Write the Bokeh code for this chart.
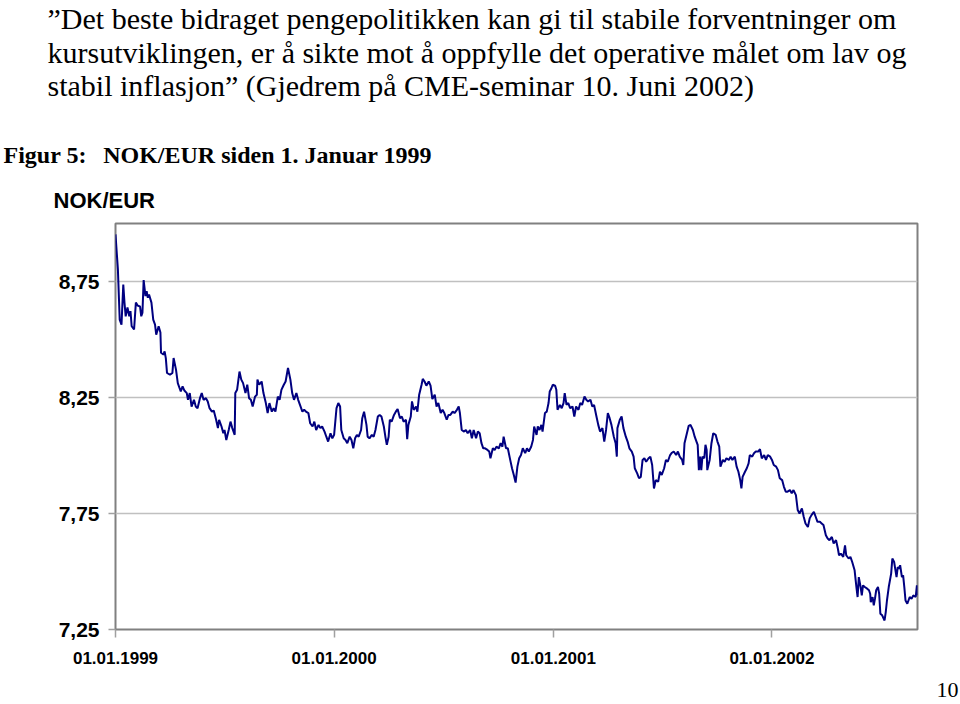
import pandas as pd
from bokeh.plotting import figure
from bokeh.models import Range1d, FixedTicker, DatetimeTickFormatter, Title
from bokeh.embed import file_html
from bokeh.resources import INLINE

# ---------------- data ----------------
# calendar days after 1 Jan 1999
days = [0, 4, 7, 10, 13, 15, 17, 20, 23, 25,
        27, 31, 34, 37, 41, 43, 45, 47, 50, 52,
        54, 56, 60, 63, 66, 68, 72, 75, 76, 80,
        82, 84, 86, 91, 95, 97, 101, 104, 109, 112,
        115, 119, 121, 124, 127, 131, 134, 137, 141, 144,
        147, 151, 154, 157, 161, 164, 168, 171, 173, 177,
        180, 182, 185, 189, 192, 195, 199, 200, 203, 207,
        210, 213, 217, 220, 223, 226, 229, 233, 236, 237,
        240, 244, 247, 251, 254, 257, 261, 264, 267, 271,
        274, 277, 281, 284, 288, 292, 295, 298, 302, 305,
        308, 312, 315, 318, 322, 325, 329, 332, 335, 339,
        342, 345, 349, 352, 355, 359, 362, 365, 369, 372,
        375, 377, 381, 384, 387, 391, 394, 397, 400, 403,
        406, 410, 412, 415, 419, 421, 424, 428, 431, 434,
        438, 441, 444, 448, 451, 453, 456, 458, 461, 465,
        468, 471, 475, 478, 481, 485, 487, 489, 493, 495,
        498, 502, 504, 507, 511, 513, 516, 519, 523, 526,
        529, 533, 536, 539, 543, 546, 549, 553, 556, 559,
        563, 566, 570, 573, 575, 578, 582, 585, 588, 592,
        595, 598, 602, 605, 608, 611, 614, 617, 621, 624,
        626, 630, 633, 636, 640, 643, 646, 648, 652, 655,
        659, 662, 665, 668, 671, 674, 677, 680, 684, 687,
        690, 694, 697, 699, 703, 705, 708, 711, 713, 717,
        720, 723, 725, 728, 730, 734, 736, 738, 742, 745,
        748, 750, 753, 756, 759, 763, 766, 769, 773, 776,
        779, 783, 786, 789, 793, 796, 799, 803, 806, 809,
        813, 816, 819, 822, 825, 828, 832, 835, 837, 838,
        842, 845, 848, 852, 855, 858, 862, 865, 867, 871,
        874, 877, 880, 883, 886, 890, 893, 896, 899, 902,
        906, 909, 912, 916, 919, 922, 926, 929, 932, 936,
        939, 942, 946, 948, 950, 954, 957, 960, 964, 967,
        970, 972, 974, 976, 978, 980, 983, 985, 987, 988,
        992, 995, 998, 1002, 1005, 1008, 1010, 1014, 1017, 1020,
        1024, 1027, 1030, 1034, 1037, 1040, 1043, 1045, 1047, 1051,
        1054, 1057, 1059, 1063, 1066, 1069, 1073, 1076, 1079, 1083,
        1086, 1089, 1093, 1096, 1099, 1103, 1106, 1109, 1113, 1116,
        1119, 1122, 1126, 1129, 1132, 1136, 1139, 1142, 1146, 1149,
        1152, 1156, 1159, 1162, 1166, 1169, 1172, 1176, 1179, 1182,
        1186, 1189, 1192, 1196, 1199, 1203, 1206, 1208, 1211, 1215,
        1218, 1220, 1224, 1227, 1230, 1234, 1237, 1239, 1241, 1244,
        1246, 1248, 1251, 1255, 1258, 1260, 1261, 1264, 1266, 1268,
        1270, 1273, 1275, 1277, 1280, 1284, 1286, 1288, 1291, 1295,
        1297, 1300, 1304, 1306, 1308, 1310, 1313, 1315, 1317, 1319,
        1322, 1326, 1329, 1332, 1336, 1338, 1339]

nok_eur = [8.953, 8.802, 8.586, 8.564, 8.737, 8.659, 8.600, 8.638, 8.600, 8.622,
           8.557, 8.543, 8.659, 8.646, 8.642, 8.600, 8.616, 8.756, 8.687, 8.708,
           8.680, 8.694, 8.659, 8.586, 8.564, 8.521, 8.557, 8.530, 8.443, 8.435,
           8.449, 8.420, 8.356, 8.348, 8.356, 8.420, 8.370, 8.312, 8.276, 8.298,
           8.280, 8.269, 8.240, 8.269, 8.211, 8.240, 8.211, 8.204, 8.247, 8.269,
           8.240, 8.247, 8.233, 8.204, 8.189, 8.194, 8.154, 8.118, 8.154, 8.125,
           8.096, 8.110, 8.067, 8.110, 8.146, 8.118, 8.089, 8.269, 8.283, 8.362,
           8.327, 8.312, 8.269, 8.305, 8.247, 8.240, 8.211, 8.254, 8.262, 8.327,
           8.305, 8.319, 8.269, 8.226, 8.183, 8.226, 8.189, 8.204, 8.189, 8.254,
           8.240, 8.283, 8.305, 8.319, 8.377, 8.327, 8.269, 8.240, 8.269, 8.240,
           8.218, 8.189, 8.197, 8.189, 8.183, 8.139, 8.125, 8.146, 8.110, 8.132,
           8.118, 8.125, 8.103, 8.081, 8.060, 8.096, 8.074, 8.089, 8.204, 8.226,
           8.211, 8.110, 8.074, 8.067, 8.053, 8.081, 8.067, 8.031, 8.074, 8.089,
           8.081, 8.110, 8.161, 8.189, 8.132, 8.081, 8.074, 8.089, 8.081, 8.110,
           8.168, 8.175, 8.168, 8.125, 8.074, 8.046, 8.081, 8.154, 8.146, 8.175,
           8.189, 8.200, 8.161, 8.168, 8.146, 8.154, 8.070, 8.132, 8.168, 8.233,
           8.197, 8.211, 8.189, 8.262, 8.305, 8.330, 8.319, 8.301, 8.319, 8.301,
           8.243, 8.262, 8.211, 8.226, 8.183, 8.197, 8.183, 8.154, 8.175, 8.175,
           8.189, 8.183, 8.197, 8.211, 8.183, 8.110, 8.103, 8.110, 8.096, 8.110,
           8.074, 8.110, 8.074, 8.103, 8.096, 8.053, 8.031, 8.031, 8.024, 8.017,
           7.988, 8.031, 8.024, 8.038, 8.031, 8.053, 8.038, 8.081, 8.031, 8.031,
           7.981, 7.945, 7.916, 7.883, 7.952, 7.988, 8.002, 8.031, 8.010, 8.031,
           8.017, 8.038, 8.067, 8.125, 8.089, 8.125, 8.110, 8.132, 8.103, 8.183,
           8.189, 8.226, 8.276, 8.291, 8.305, 8.301, 8.283, 8.197, 8.218, 8.204,
           8.226, 8.269, 8.218, 8.226, 8.204, 8.211, 8.168, 8.211, 8.197, 8.226,
           8.218, 8.254, 8.240, 8.233, 8.240, 8.211, 8.218, 8.168, 8.132, 8.103,
           8.118, 8.060, 8.110, 8.183, 8.161, 8.132, 8.081, 8.053, 7.995, 8.118,
           8.154, 8.168, 8.118, 8.081, 8.060, 8.031, 8.017, 7.995, 7.945, 7.923,
           7.902, 7.908, 7.981, 7.988, 7.973, 7.988, 7.995, 7.959, 7.858, 7.894,
           7.887, 7.930, 7.916, 7.945, 7.981, 7.973, 8.002, 8.012, 8.017, 8.002,
           8.017, 7.995, 7.981, 7.959, 8.053, 8.096, 8.128, 8.132, 8.110, 8.081,
           8.060, 8.046, 7.937, 7.995, 7.937, 7.995, 7.988, 8.046, 8.024, 7.937,
           7.981, 8.053, 8.096, 8.089, 8.060, 8.038, 7.952, 7.981, 7.973, 7.988,
           7.981, 7.995, 7.981, 7.995, 7.952, 7.930, 7.894, 7.858, 7.908, 7.930,
           7.945, 7.966, 8.002, 7.995, 8.010, 8.017, 8.017, 8.027, 7.988, 8.002,
           7.981, 8.002, 7.995, 7.981, 7.959, 7.952, 7.937, 7.902, 7.894, 7.865,
           7.844, 7.844, 7.851, 7.837, 7.851, 7.829, 7.765, 7.750, 7.772, 7.736,
           7.707, 7.692, 7.729, 7.743, 7.757, 7.736, 7.714, 7.714, 7.707, 7.700,
           7.656, 7.642, 7.635, 7.649, 7.621, 7.635, 7.599, 7.570, 7.577, 7.563,
           7.613, 7.570, 7.556, 7.563, 7.541, 7.505, 7.433, 7.390, 7.476, 7.433,
           7.397, 7.440, 7.433, 7.426, 7.419, 7.404, 7.368, 7.390, 7.354, 7.383,
           7.419, 7.433, 7.404, 7.318, 7.311, 7.289, 7.325, 7.375, 7.433, 7.491,
           7.556, 7.541, 7.476, 7.519, 7.512, 7.527, 7.476, 7.483, 7.433, 7.375,
           7.361, 7.390, 7.383, 7.397, 7.390, 7.440, 7.397]

start_date = "1999-01-01"
x_tick_dates = ["1999-01-01", "2000-01-01", "2001-01-01", "2002-01-01"]
y_ticks = [7.25, 7.75, 8.25, 8.75]
y_tick_labels = ["7,25", "7,75", "8,25", "8,75"]
y_min, y_max = 7.25, 9.0

quote_lines = [
    "\u201dDet beste bidraget pengepolitikken kan gi til stabile forventninger om",
    "kursutviklingen, er \u00e5 sikte mot \u00e5 oppfylle det operative m\u00e5let om lav og",
    "stabil inflasjon\u201d (Gjedrem p\u00e5 CME-seminar 10. Juni 2002)",
]
fig_heading = "Figur 5:\u00a0\u00a0\u2009NOK/EUR siden 1. Januar 1999"
unit_label = "NOK/EUR"
page_number = "10"

assert len(days) == len(nok_eur)
dates = pd.Timestamp(start_date) + pd.to_timedelta(days, unit="D")

W, H = 960, 704
FRAME_L, FRAME_R = 115, 917
p = figure(width=W, height=H, x_axis_type="datetime",
           output_backend="svg", toolbar_location=None,
           x_range=Range1d(dates[0], dates[-1]),
           y_range=Range1d(y_min, y_max),
           min_border_left=FRAME_L, min_border_right=W - FRAME_R,
           min_border_top=222, min_border_bottom=75)
p.background_fill_color = "white"
p.border_fill_color = "white"
p.outline_line_color = "#808080"
p.outline_line_width = 2

p.line(dates, nok_eur, line_color="#000080", line_width=2)

p.xgrid.visible = False
p.ygrid.grid_line_color = "#c0c0c0"
p.ygrid.grid_line_width = 1.5

p.yaxis.ticker = FixedTicker(ticks=y_ticks)
p.yaxis.major_label_overrides = dict(zip(y_ticks, y_tick_labels))
x_ticks_ms = [pd.Timestamp(d).value / 1e6 for d in x_tick_dates]
p.xaxis.ticker = FixedTicker(ticks=x_ticks_ms)
p.xaxis.formatter = DatetimeTickFormatter(days="%d.%m.%Y", months="%d.%m.%Y",
                                          years="%d.%m.%Y")

for ax in (p.xaxis[0], p.yaxis[0]):
    ax.axis_line_color = None
    ax.major_tick_line_color = "#a0a0a0"
    ax.major_tick_line_width = 1.5
    ax.major_tick_in = 0
    ax.minor_tick_line_color = None
    ax.major_label_text_font = "Liberation Sans"
    ax.major_label_text_font_style = "bold"
    ax.major_label_text_color = "black"

p.yaxis.major_tick_out = 7
p.yaxis.major_label_standoff = 9
p.yaxis.major_label_text_font_size = "21px"
p.xaxis.major_tick_out = 8
p.xaxis.major_label_standoff = 14
p.xaxis.major_label_text_font_size = "17px"


# ---------------- texts as titles in the side panels ----------------
def add_title(text, side, page_x, size, font, style="normal", align="left", standoff=0.0):
    if align == "left":
        offset = page_x - FRAME_L
    else:
        offset = FRAME_R - page_x
    kw = dict(text=text, align=align, offset=offset,
              text_font=font, text_font_size=size, text_font_style=style,
              text_color="black")
    try:
        t = Title(standoff=standoff, **kw)
    except ValueError:
        t = Title(standoff=max(standoff, 0), **kw)
    p.add_layout(t, side)


# "above" panels are stacked from the frame outwards
add_title(unit_label, "above", 53, "22px", "Liberation Sans", "bold", standoff=21.6)
add_title(fig_heading, "above", 3, "24px", "Liberation Serif", "bold", standoff=12.6)
add_title(" ", "above", 48, "10px", "Liberation Serif", standoff=20.1)   # gap
add_title(quote_lines[2], "above", 47, "30px", "Liberation Serif", standoff=-3)
add_title(quote_lines[1], "above", 47, "30px", "Liberation Serif", standoff=-1)
add_title(quote_lines[0], "above", 47, "30px", "Liberation Serif", standoff=-1)

# "below": after the x axis
add_title(" ", "below", 900, "6px", "Liberation Serif", align="right", standoff=5.6)  # gap
add_title(page_number, "below", 958, "22px", "Liberation Serif", align="right")

open("out.html", "w").write(file_html(p, INLINE))
